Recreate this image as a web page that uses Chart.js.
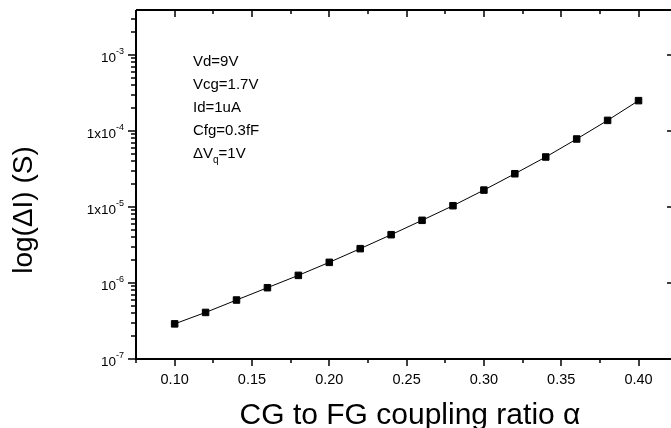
<!DOCTYPE html>
<html>
<head>
<meta charset="utf-8">
<script src="https://cdn.jsdelivr.net/npm/chart.js@4.4.0/dist/chart.umd.min.js"></script>
<style>
	html, body { margin: 0; padding: 0; background: #fff; }
	#wrap { width: 671px; height: 428px; }
</style>
</head>
<body>
<div id="wrap"><canvas id="chart" width="671" height="428"></canvas></div>
<script>
// data
const alphaValues = [0.10, 0.12, 0.14, 0.16, 0.18, 0.20, 0.22, 0.24, 0.26, 0.28, 0.30, 0.32, 0.34, 0.36, 0.38, 0.40];
const deltaI = [2.9e-7, 4.1e-7, 5.97e-7, 8.67e-7, 1.26e-6, 1.87e-6, 2.83e-6, 4.32e-6, 6.68e-6, 1.04e-5,
	1.67e-5, 2.74e-5, 4.55e-5, 7.85e-5, 1.38e-4, 2.51e-4];

const xTickValues = [0.10, 0.15, 0.20, 0.25, 0.30, 0.35, 0.40];
const xTickLabels = ['0.10', '0.15', '0.20', '0.25', '0.30', '0.35', '0.40'];
const xMinorTicks = [0.075, 0.125, 0.175, 0.225, 0.275, 0.325, 0.375];
const yTickValues = [1e-7, 1e-6, 1e-5, 1e-4, 1e-3];
const yTickBase = ['10', '10', '1x10', '1x10', '10'];
const yTickExp = ['-7', '-6', '-5', '-4', '-3'];
const noteLines = ['Vd=9V', 'Vcg=1.7V', 'Id=1uA', 'Cfg=0.3fF'];

const FONT = '"Liberation Sans", Arial, sans-serif';

function line(ctx, x1, y1, x2, y2) {
	ctx.beginPath();
	ctx.moveTo(x1, y1);
	ctx.lineTo(x2, y2);
	ctx.stroke();
}

const axesPlugin = {
	id: 'originAxes',
	afterDraw: function (chart) {
		const ctx = chart.ctx;
		const xs = chart.scales.x;
		const ys = chart.scales.y;
		const a = chart.chartArea;
		ctx.save();
		ctx.strokeStyle = '#000';
		ctx.fillStyle = '#000';

		// frame
		ctx.lineWidth = 2;
		line(ctx, a.left, a.top, a.right + 2, a.top);
		line(ctx, a.left - 1, a.bottom, a.right + 2, a.bottom);
		line(ctx, a.left, a.top, a.left, a.bottom);
		line(ctx, a.right + 1, a.top, a.right + 1, a.bottom);

		ctx.lineWidth = 1.5;
		// x ticks (bottom outward, top inward)
		xTickValues.forEach(function (v) {
			const x = Math.round(xs.getPixelForValue(v));
			line(ctx, x, a.bottom, x, a.bottom + 7);
			line(ctx, x, a.top, x, a.top + 7);
		});
		xMinorTicks.forEach(function (v) {
			const x = Math.round(xs.getPixelForValue(v));
			line(ctx, x, a.bottom, x, a.bottom + 4);
			line(ctx, x, a.top, x, a.top + 4);
		});
		// y ticks (left outward with minors, right inward majors)
		for (let d = -7; d <= -3; d++) {
			for (let m = 1; m <= 9; m++) {
				const v = m * Math.pow(10, d);
				if (v > ys.max) continue;
				const y = Math.round(ys.getPixelForValue(v));
				if (m === 1) {
					line(ctx, a.left - 8, y, a.left, y);
					line(ctx, a.right - 4, y, a.right, y);
				} else {
					line(ctx, a.left - 5, y, a.left, y);
				}
			}
		}

		// x tick labels
		ctx.font = '14.5px ' + FONT;
		ctx.textAlign = 'center';
		ctx.textBaseline = 'alphabetic';
		xTickValues.forEach(function (v, i) {
			ctx.fillText(xTickLabels[i], xs.getPixelForValue(v), a.bottom + 25);
		});

		// y tick labels with superscripts
		yTickValues.forEach(function (v, i) {
			const y = ys.getPixelForValue(v);
			ctx.font = '9px ' + FONT;
			ctx.textAlign = 'right';
			const ew = ctx.measureText(yTickExp[i]).width;
			ctx.fillText(yTickExp[i], 124, y - 1);
			ctx.font = '13.5px ' + FONT;
			ctx.fillText(yTickBase[i], 124 - ew, y + 7);
		});

		// axis titles
		ctx.font = '30px ' + FONT;
		ctx.textAlign = 'center';
		ctx.fillText('CG to FG coupling ratio \u03B1', 410, 424);

		ctx.save();
		ctx.translate(32, 210);
		ctx.rotate(-Math.PI / 2);
		ctx.font = '28px ' + FONT;
		ctx.fillText('log(\u0394I) (S)', 0, 0);
		ctx.restore();

		// parameter note
		ctx.font = '15px ' + FONT;
		ctx.textAlign = 'left';
		noteLines.forEach(function (t, i) {
			ctx.fillText(t, 193, 66 + i * 23);
		});
		const ny = 66 + 4 * 23;
		ctx.fillText('\u0394V', 193, ny);
		let nx = 193 + ctx.measureText('\u0394V').width;
		ctx.font = '10px ' + FONT;
		ctx.fillText('q', nx, ny + 5);
		nx += ctx.measureText('q').width;
		ctx.font = '15px ' + FONT;
		ctx.fillText('=1V', nx, ny);

		ctx.restore();
	}
};

const points = alphaValues.map(function (x, i) {
	return { x: x, y: deltaI[i] };
});

const ctx = document.getElementById('chart').getContext('2d');
const chart = new Chart(ctx, {
	type: 'line',
	data: {
		datasets: [{
			data: points,
			borderColor: '#000',
			borderWidth: 1,
			backgroundColor: '#000',
			pointStyle: 'rect',
			pointRadius: 4.6,
			pointBorderWidth: 1,
			pointBorderColor: '#000',
			pointBackgroundColor: '#000',
			tension: 0,
			fill: false
		}]
	},
	options: {
		responsive: false,
		animation: false,
		devicePixelRatio: 1,
		layout: {
			autoPadding: false,
			padding: { left: 136, top: 10, right: 0, bottom: 69 }
		},
		plugins: {
			legend: { display: false },
			tooltip: { enabled: false }
		},
		scales: {
			x: {
				type: 'linear',
				display: false,
				bounds: 'data',
				min: 0.075,
				max: 0.421
			},
			y: {
				type: 'logarithmic',
				display: false,
				bounds: 'data',
				min: 1e-7,
				max: 3.91e-3
			}
		}
	},
	plugins: [axesPlugin]
});
</script>
</body>
</html>
